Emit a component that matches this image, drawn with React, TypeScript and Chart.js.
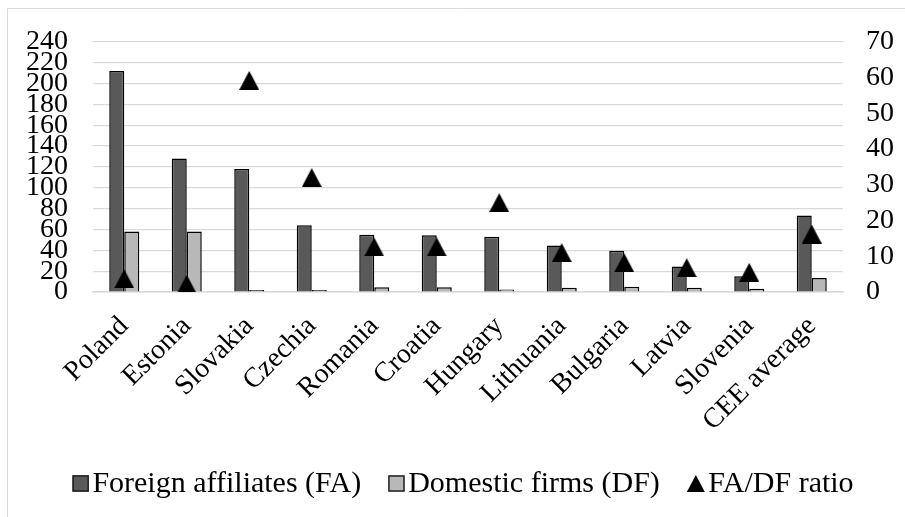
import { useEffect, useRef } from "react";
import { Chart, registerables } from "chart.js";

Chart.register(...registerables);

// Countries (plus the regional average) along the category axis
const categories = [
  "Poland",
  "Estonia",
  "Slovakia",
  "Czechia",
  "Romania",
  "Croatia",
  "Hungary",
  "Lithuania",
  "Bulgaria",
  "Latvia",
  "Slovenia",
  "CEE average",
];

// Left axis values
const foreignAffiliates = [212, 128, 118, 64, 55, 54.5, 53, 44.5, 39.5, 24.5, 15, 73.5];
const domesticFirms = [58, 58, 2, 2, 4.5, 4.5, 2.5, 4, 5, 4, 3, 13.5];

// Right axis values
const faDfRatio = [3.7, 2.2, 59.2, 32, 12.6, 12.6, 25, 11, 8.2, 6.8, 5.5, 16.2];

const seriesLabels = ["Foreign affiliates (FA)", "Domestic firms (DF)", "FA/DF ratio"];

const leftAxisMax = 240;
const leftAxisStep = 20;
const rightAxisMax = 70;
const rightAxisStep = 10;

const FONT_FAMILY = "'Liberation Serif', 'Times New Roman', serif";
const GRID = "#d9d9d9";
const FA_FILL = "#595959";
const DF_FILL = "#b8b8b8";

function makeTriangle(w: number, h: number, color: string) {
  const c = document.createElement("canvas");
  c.width = w;
  c.height = h;
  const g = c.getContext("2d")!;
  g.fillStyle = color;
  g.beginPath();
  g.moveTo(w / 2, 0);
  g.lineTo(w, h);
  g.lineTo(0, h);
  g.closePath();
  g.fill();
  return c;
}

// Thin frame along the top and left edges of the chart
const framePlugin = {
  id: "frame",
  beforeDraw(chart: any) {
    const { ctx, width, height } = chart;
    ctx.save();
    ctx.strokeStyle = GRID;
    ctx.lineWidth = 1;
    ctx.beginPath();
    ctx.moveTo(7.5, height);
    ctx.lineTo(7.5, 8.5);
    ctx.lineTo(width, 8.5);
    ctx.stroke();
    ctx.restore();
  },
};

// Single-row legend under the axis labels
const legendPlugin = {
  id: "bottomLegend",
  afterDraw(chart: any) {
    const { ctx } = chart;
    const datasets = chart.data.datasets;
    const fontSize = 30;
    const box = 16.5;
    const gap = 3.5;
    const spacing = 27;
    const centerX = 463;
    const centerY = 483.5;
    const baseline = 492;
    ctx.save();
    ctx.font = `${fontSize}px ${FONT_FAMILY}`;
    const items = datasets.map((ds: any) => {
      const markerW = ds.type === "line" ? 18 : box;
      return { ds, markerW, textW: ctx.measureText(ds.label).width };
    });
    const total =
      items.reduce((s: number, it: any) => s + it.markerW + gap + it.textW, 0) +
      spacing * (items.length - 1);
    let x = centerX - total / 2;
    for (const it of items) {
      const ds = it.ds;
      if (ds.type === "line") {
        ctx.fillStyle = "#000";
        ctx.beginPath();
        ctx.moveTo(x + it.markerW / 2, centerY - 8.5);
        ctx.lineTo(x + it.markerW, centerY + 8.5);
        ctx.lineTo(x, centerY + 8.5);
        ctx.closePath();
        ctx.fill();
      } else {
        ctx.fillStyle = ds.backgroundColor;
        ctx.fillRect(x, centerY - box / 2, box, box);
        ctx.strokeStyle = "#222";
        ctx.lineWidth = 1.5;
        ctx.strokeRect(x + 0.75, centerY - box / 2 + 0.75, box - 1.5, box - 1.5);
      }
      x += it.markerW + gap;
      ctx.fillStyle = "#000";
      ctx.textBaseline = "alphabetic";
      ctx.textAlign = "left";
      ctx.fillText(ds.label, x, baseline);
      x += it.textW + spacing;
    }
    ctx.restore();
  },
};

export default function App() {
  const canvasRef = useRef<HTMLCanvasElement | null>(null);

  useEffect(() => {
    const canvas = canvasRef.current;
    if (!canvas) return;
    const triangle = makeTriangle(20, 19, "#000");
    const tickFont = { family: FONT_FAMILY, size: 28 };

    const chart = new Chart(canvas, {
      data: {
        labels: categories,
        datasets: [
          {
            type: "bar",
            label: seriesLabels[0],
            data: foreignAffiliates,
            yAxisID: "y",
            backgroundColor: FA_FILL,
            borderColor: "#000",
            borderWidth: 1.5,
            categoryPercentage: 0.48,
            barPercentage: 1,
            order: 1,
          },
          {
            type: "bar",
            label: seriesLabels[1],
            data: domesticFirms,
            yAxisID: "y",
            backgroundColor: DF_FILL,
            borderColor: "#000",
            borderWidth: 1.5,
            categoryPercentage: 0.48,
            barPercentage: 1,
            order: 1,
          },
          {
            type: "line",
            label: seriesLabels[2],
            data: faDfRatio,
            yAxisID: "y2",
            showLine: false,
            pointStyle: triangle as any,
            pointRadius: 10,
            backgroundColor: "#000",
            borderColor: "#000",
            order: 0,
          },
        ] as any,
      },
      options: {
        responsive: false,
        animation: false,
        layout: { padding: { top: 38, left: 0, right: 0, bottom: 0 } },
        plugins: {
          legend: { display: false },
          tooltip: { enabled: false },
        },
        scales: {
          x: {
            grid: { display: false, drawTicks: false },
            border: { display: true, color: GRID, width: 1.5 },
            ticks: {
              autoSkip: false,
              minRotation: 45,
              maxRotation: 45,
              padding: 18,
              color: "#000",
              font: tickFont,
            },
            afterFit(scale: any) {
              scale.height = 225;
            },
          },
          y: {
            position: "left",
            min: 0,
            max: leftAxisMax,
            grid: { color: GRID, lineWidth: 1.25, drawTicks: false },
            border: { display: false },
            ticks: {
              stepSize: leftAxisStep,
              autoSkip: false,
              padding: 25,
              color: "#000",
              font: tickFont,
            },
            afterFit(scale: any) {
              scale.width = 93;
            },
          },
          y2: {
            position: "right",
            min: 0,
            max: rightAxisMax,
            grid: { drawOnChartArea: false, drawTicks: false },
            border: { display: false },
            ticks: {
              stepSize: rightAxisStep,
              autoSkip: false,
              padding: 23,
              color: "#000",
              font: tickFont,
            },
            afterFit(scale: any) {
              scale.width = 62;
            },
          },
        },
      } as any,
      plugins: [framePlugin, legendPlugin],
    });

    return () => chart.destroy();
  }, []);

  return (
    <div style={{ position: "fixed", left: 0, top: 0, width: 905, height: 517, background: "#fff" }}>
      <canvas ref={canvasRef} width={905} height={517} style={{ display: "block" }} />
    </div>
  );
}
